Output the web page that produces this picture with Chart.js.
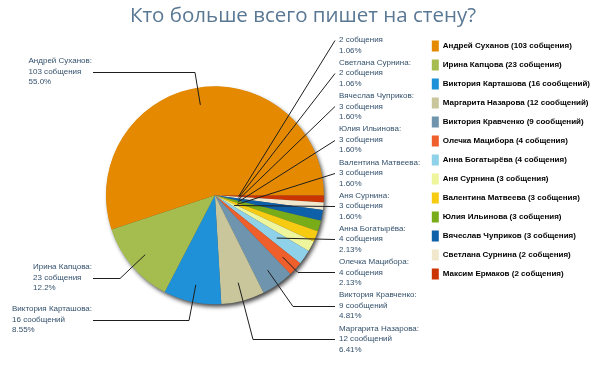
<!DOCTYPE html>
<html>
<head>
<meta charset="utf-8">
<script src="https://cdn.jsdelivr.net/npm/chart.js@4/dist/chart.umd.min.js"></script>
<style>
  html, body { margin: 0; padding: 0; background: #fff; }
  canvas { display: block; }
</style>
</head>
<body>
<canvas id="wall-chart" width="604" height="378"></canvas>
<script>
const names = [
  'Андрей Суханов', 'Ирина Капцова', 'Виктория Карташова', 'Маргарита Назарова',
  'Виктория Кравченко', 'Олечка Мацибора', 'Анна Богатырёва', 'Аня Сурнина',
  'Валентина Матвеева', 'Юлия Ильинова', 'Вячеслав Чуприков', 'Светлана Сурнина',
  'Максим Ермаков'
];
const counts = [103, 23, 16, 12, 9, 4, 4, 3, 3, 3, 3, 2, 2];
const units = [
  'собщения', 'собщения', 'сообщений', 'сообщений', 'сообщений', 'собщения', 'собщения',
  'собщения', 'собщения', 'собщения', 'собщения', 'собщения', 'собщения'
];
const colors = [
  '#e58a00', '#a5bd4e', '#1f91d8', '#c9c69c', '#6f94ae', '#ef5f2b', '#8fd1e8',
  '#eef59c', '#f7cb12', '#78ac19', '#0e60a9', '#f1e7cc', '#cb3403'
];

const total = counts.reduce((a, b) => a + b, 0);

// the source truncates to 3 significant digits (55.08 -> 55.0)
function pct(v) {
  const p = v / total * 100;
  const d = p >= 10 ? 1 : 2;
  const f = Math.pow(10, d);
  return (Math.floor(p * f + 1e-9) / f).toFixed(d) + '%';
}

// where each callout goes (legend order)
const callouts = [
  { side: 'left', right: 92, y: 61, elbow: 195, frac: 0.84 },
  { side: 'left', right: 92, y: 267, elbow: 120, frac: 0.84 },
  { side: 'left', right: 92, y: 309, elbow: 189, frac: 0.84 },
  { side: 'right', row: 9, elbow: 253, frac: 0.83 },
  { side: 'right', row: 8, elbow: 293, frac: 0.84 },
  { side: 'right', row: 7, elbow: 298, frac: 0.84 },
  { side: 'right', row: 6, elbow: null, frac: 0.69 },
  { side: 'right', row: 5, elbow: null, frac: 0.2 },
  { side: 'right', row: 4, elbow: null, frac: 0.22 },
  { side: 'right', row: 3, elbow: null, frac: 0.22 },
  { side: 'right', row: 2, elbow: null, frac: 0.22 },
  { side: 'right', row: 1, elbow: null, frac: 0.22 },
  { side: 'right', row: 0, elbow: null, frac: 0.22, noName: true }
];

// pie runs counter-clockwise in the source, so feed it reversed
const rev = (arr) => arr.slice().reverse();
const n = names.length;

const shadowPlugin = {
  id: 'pieShadow',
  beforeDatasetsDraw(chart) {
    const arc = chart.getDatasetMeta(0).data[0];
    if (!arc) return;
    const ctx = chart.ctx;
    ctx.save();
    ctx.shadowColor = 'rgba(0,0,0,0.75)';
    ctx.shadowBlur = 4;
    ctx.shadowOffsetX = 2;
    ctx.shadowOffsetY = 3;
    ctx.fillStyle = '#555';
    ctx.beginPath();
    ctx.arc(arc.x, arc.y, arc.outerRadius - 0.5, 0, Math.PI * 2);
    ctx.fill();
    ctx.restore();
  }
};

const calloutPlugin = {
  id: 'callouts',
  afterDatasetsDraw(chart) {
    const ctx = chart.ctx;
    const meta = chart.getDatasetMeta(0);
    ctx.save();
    ctx.font = '8px "Liberation Sans", Arial, sans-serif';
    ctx.textBaseline = 'middle';
    ctx.lineWidth = 1;
    names.forEach((name, i) => {
      const c = callouts[i];
      const arc = meta.data[n - 1 - i];
      const mid = (arc.startAngle + arc.endAngle) / 2;
      const ax = arc.x + Math.cos(mid) * arc.outerRadius * c.frac;
      const ay = arc.y + Math.sin(mid) * arc.outerRadius * c.frac;
      const lines = [name + ':', counts[i] + ' ' + units[i], pct(counts[i])];
      let tx, ty, lx;
      if (c.side === 'left') {
        const w = Math.max(...lines.map(t => ctx.measureText(t).width));
        tx = c.right - w;
        ty = c.y;
        lx = c.right + 1;
      } else {
        tx = 339;
        ty = 29.5 + c.row * 33.2;
        lx = 335;
      }
      const ly = Math.round(ty + 10.5) + 0.5;
      ctx.strokeStyle = '#1e1e1e';
      ctx.beginPath();
      ctx.moveTo(ax, ay);
      if (c.elbow !== null) ctx.lineTo(c.elbow, ly);
      ctx.lineTo(lx, ly);
      ctx.stroke();
      ctx.fillStyle = '#34516c';
      lines.forEach((t, k) => {
        if (k === 0 && c.noName) return;
        ctx.fillText(t, tx, ty + k * 10.5);
      });
    });
    ctx.restore();
  }
};

new Chart(document.getElementById('wall-chart'), {
  type: 'pie',
  data: {
    labels: rev(names),
    datasets: [{
      data: rev(counts),
      backgroundColor: rev(colors),
      borderWidth: 0,
      radius: 109
    }]
  },
  options: {
    responsive: false,
    animation: false,
    devicePixelRatio: 1,
    rotation: 90,
    layout: { padding: { left: 6, right: 4, bottom: 20 } },
    plugins: {
      title: {
        display: true,
        text: 'Кто больше всего пишет на стену?',
        color: '#5a7894',
        font: { family: '"Open Sans", sans-serif', size: 20.5, weight: 'normal' },
        padding: { top: 4, bottom: 4 }
      },
      legend: {
        position: 'right',
        align: 'start',
        fullSize: false,
        labels: {
          boxWidth: 7,
          boxHeight: 11,
          padding: 8,
          color: '#2c4763',
          font: { family: '"Liberation Sans", Arial, sans-serif', size: 8, weight: 'bold' },
          generateLabels: () => names.map((name, i) => ({
            text: name + ' (' + counts[i] + ' ' + units[i] + ')',
            fillStyle: colors[i],
            strokeStyle: colors[i],
            lineWidth: 0,
            hidden: false,
            index: n - 1 - i
          }))
        }
      },
      tooltip: { enabled: false }
    }
  },
  plugins: [shadowPlugin, calloutPlugin]
});
</script>
</body>
</html>
